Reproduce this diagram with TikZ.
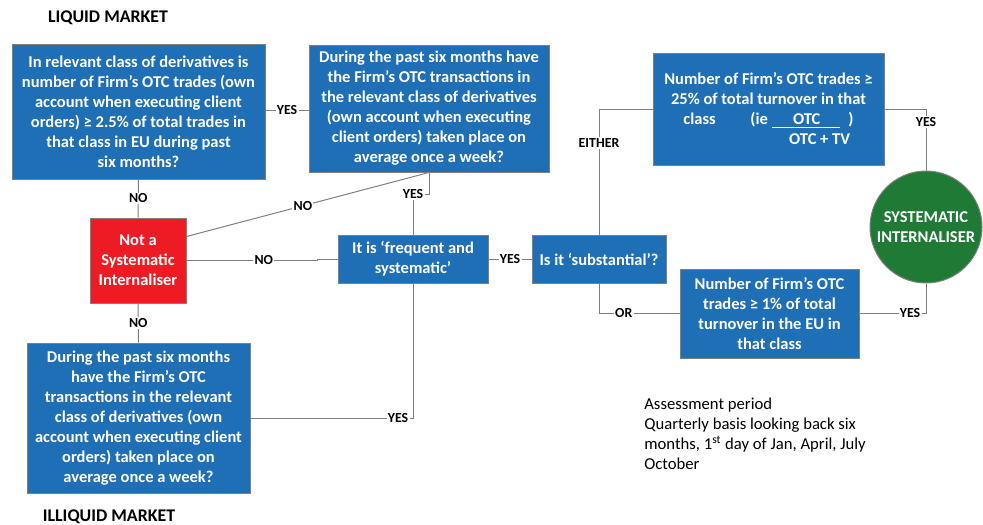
\documentclass[tikz,border=0pt]{standalone}
\usepackage{fontspec}
\setmainfont{Carlito}
\usetikzlibrary{positioning,calc}
\definecolor{boxblue}{RGB}{31,111,182}
\definecolor{nosired}{RGB}{237,28,36}
\definecolor{sigreen}{RGB}{30,122,52}
\definecolor{linegray}{RGB}{128,128,128}

\begin{document}
\begin{tikzpicture}[x=0.6pt,y=-0.6pt,
  qbox/.style={draw=linegray,line width=0.6pt,fill=boxblue,text=white,
    font=\fontsize{9.9}{12}\selectfont\bfseries,align=center,inner sep=0pt},
  nosibox/.style={qbox,fill=nosired},
  sinode/.style={circle,draw=linegray,line width=0.6pt,fill=sigreen,text=white,
    font=\fontsize{9.9}{12}\selectfont\bfseries,align=center,inner sep=0pt,minimum size=67.2pt},
  conn/.style={draw=linegray,line width=0.6pt},
  lbl/.style={fill=white,inner sep=0.8pt,text=black,font=\fontsize{8.3}{9}\selectfont\bfseries},
  heading/.style={text=black,font=\fontsize{10.7}{12}\selectfont\bfseries}]

  \useasboundingbox (0,0) rectangle (983,524);

  %headings
  \node[heading] (liqhead) at (108,18) {LIQUID MARKET};
  \node[heading] (illiqhead) at (109,517) {ILLIQUID MARKET};

  %questions
  \node[qbox,minimum width=151.8pt,minimum height=81pt] (liq) at (138.5,111.5)
    {In relevant class of derivatives is\\ number of Firm’s OTC trades (own\\ account when executing client\\ orders) ≥ 2.5\% of total trades in\\ that class in EU during past\\ six months?};
  \node[qbox,minimum width=144pt,minimum height=76.2pt] (liqweek) at (429,108.5)
    {During the past six months have\\ the Firm’s OTC transactions in\\ the relevant class of derivatives\\ (own account when executing\\ client orders) taken place on\\ average once a week?};
  \node[nosibox,minimum width=57.6pt,minimum height=51pt] (notsi) at (138,260.5)
    {Not a\\ Systematic\\ Internaliser};
  \node[qbox,minimum width=133.8pt,minimum height=90pt] (illiqweek) at (138.5,418)
    {During the past six months\\ have the Firm’s OTC\\ transactions in the relevant\\ class of derivatives (own\\ account when executing client\\ orders) taken place on\\ average once a week?};
  \node[qbox,minimum width=90pt,minimum height=28.8pt] (freq) at (413,259)
    {It is ‘frequent and\\ systematic’};
  \node[qbox,minimum width=80.4pt,minimum height=28.8pt] (subst) at (599,259)
    {Is it ‘substantial’?};
  \node[qbox,minimum width=138.6pt,minimum height=67.2pt] (quarter) at (768.5,109)
    {Number of Firm’s OTC trades ≥\\ 25\% of total turnover in that\\ class\hspace{2.1em}(ie \underline{\hspace{1.3em}OTC\hspace{1.2em}}\hspace{0.5em})\\ \hspace*{6.2em}OTC + TV};
  \node[qbox,minimum width=107.4pt,minimum height=53.4pt] (onepc) at (769.5,313.5)
    {Number of Firm’s OTC\\ trades ≥ 1\% of total\\ turnover in the EU in\\ that class};
  \node[sinode] (si) at (926,227) {SYSTEMATIC\\ INTERNALISER};

  \node[anchor=north west,align=left,inner sep=0pt,text=black,
    font=\fontsize{10}{12}\selectfont] (period) at (644,398)
    {Assessment period\\ Quarterly basis looking back six\\ months, 1\textsuperscript{st} day of Jan, April, July\\ October};

  %connectors
  \draw[conn] (liq.east |- 0,110) -- node[lbl] {YES} (liqweek.west |- 0,110);
  \draw[conn] (liq.south) -- node[lbl] {NO} (notsi.north);
  \draw[conn] (liqweek.south) -- node[lbl,pos=0.52] {NO} ($(notsi.north east)+(0,19)$);
  \draw[conn] (liqweek.south) -- ++(0,22) -| node[lbl,pos=0.5] {YES} (freq.north);
  \draw[conn] (notsi.east) -- node[lbl,pos=0.59] {NO} ++(131,0) |- (freq.west);
  \draw[conn] (freq.east) -- node[lbl] {YES} (subst.west);
  \draw[conn] (freq.south) |- node[lbl,pos=0.546] {YES} (illiqweek.east);
  \draw[conn] (notsi.south) -- node[lbl] {NO} (illiqweek.north);
  \draw[conn] (subst.north) |- node[lbl,pos=0.365] {EITHER} (quarter.west);
  \draw[conn] (subst.south) |- node[lbl,pos=0.654] {OR} (onepc.west);
  \draw[conn] (quarter.east) -| node[lbl,pos=0.605] {YES} (si.north);
  \draw[conn] (onepc.east) -| node[lbl,pos=0.38] {YES} (si.south);
\end{tikzpicture}
\end{document}
